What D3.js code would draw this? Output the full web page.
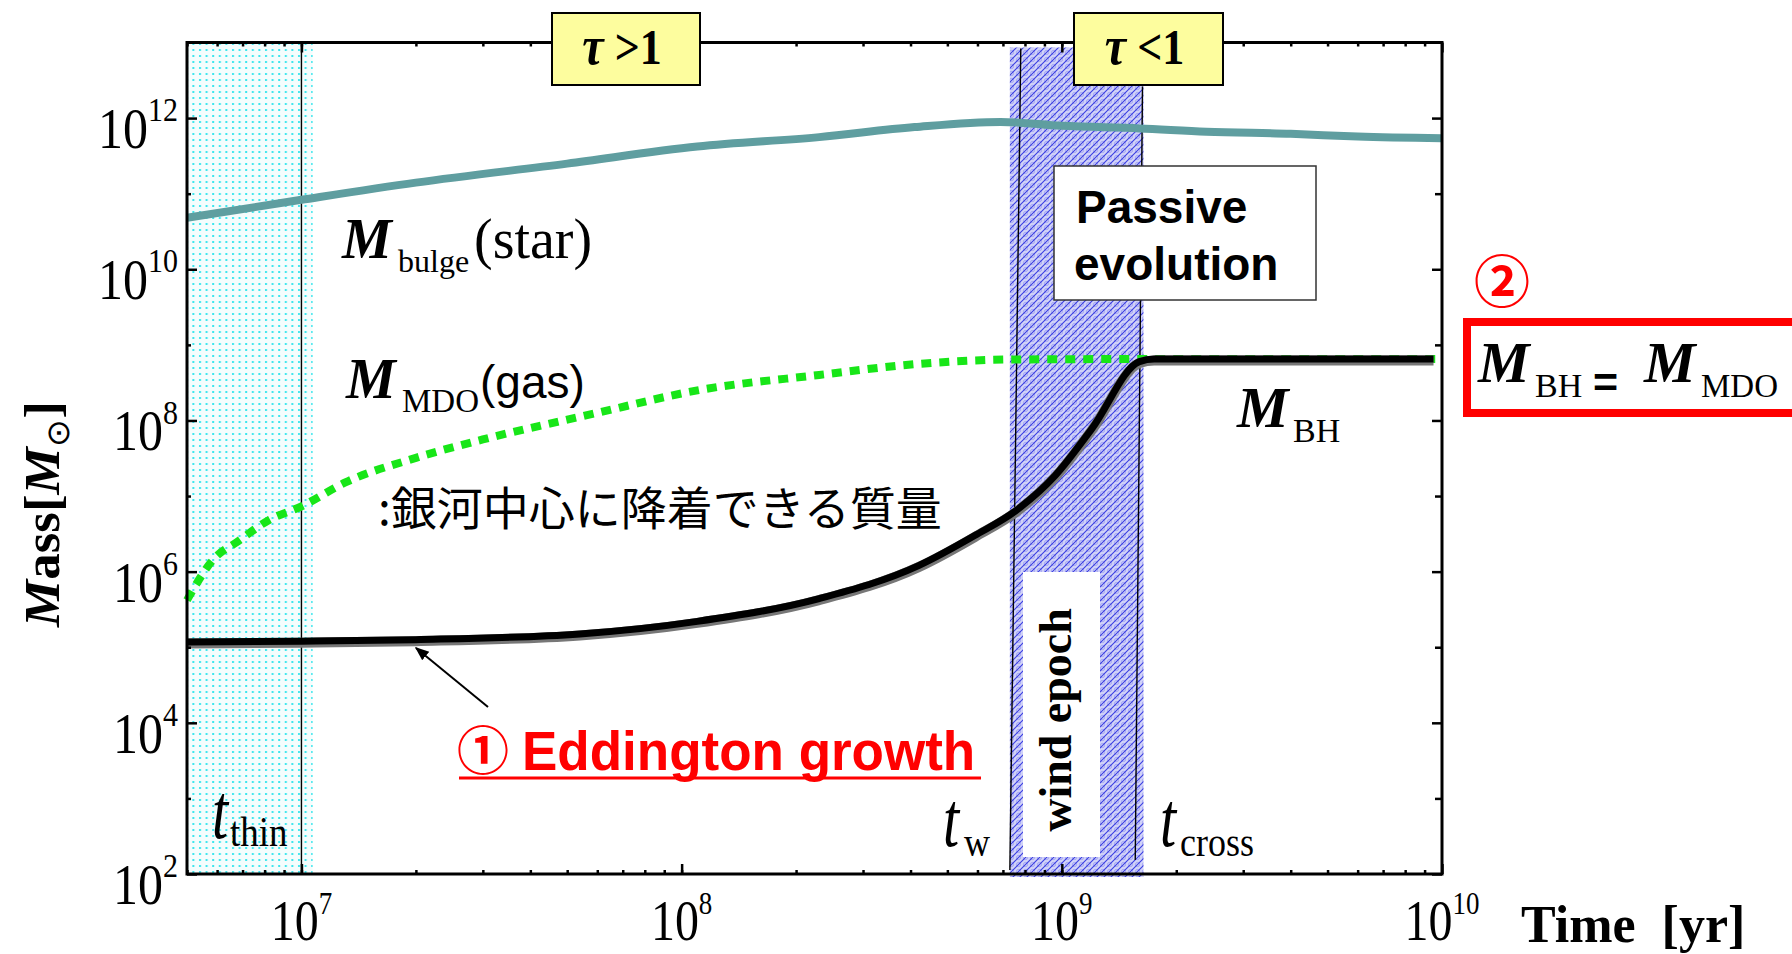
<!DOCTYPE html>
<html>
<head>
<meta charset="utf-8">
<script src="https://cdn.jsdelivr.net/npm/d3@7"></script>
<style>
  html, body { margin: 0; padding: 0; background: #fff; }
  svg { display: block; }
</style>
</head>
<body>
<svg id="chart" width="1792" height="954"></svg>
<script>
// ---- data: time in yr, masses in solar masses ----
const bulgeTime = [5e6, 1e7, 2e7, 5e7, 1.1e8, 2.3e8, 4.1e8, 6.9e8, 1e9, 1.6e9, 2.4e9, 4e9, 6e9, 1e10];
const bulgeMass = [4.8e10, 8.3e10, 1.4e11, 2.5e11, 4.2e11, 5.6e11, 7.6e11, 8.9e11, 7.9e11, 7.3e11, 6.6e11, 6.2e11, 5.7e11, 5.4e11];

const mdoTime = [5e6, 5.9e6, 6.8e6, 8.2e6, 1e7, 1.3e7, 2e7, 3e7, 6e7, 1.1e8, 2.3e8, 4.2e8, 7.4e8, 1.75e9, 1e10];
const mdoMass = [4.2e5, 1.5e6, 2.5e6, 4.8e6, 7.3e6, 1.5e7, 3.2e7, 5.6e7, 1.26e8, 2.5e8, 4.0e8, 5.6e8, 6.4e8, 6.5e8, 6.5e8];

const bhTime = [5e6, 1e7, 2e7, 5.4e7, 1.1e8, 2.3e8, 4.2e8, 5.9e8, 7.6e8, 9.6e8, 1.2e9, 1.6e9, 1.75e9, 9.5e9];
const bhMass = [1.17e5, 1.2e5, 1.26e5, 1.5e5, 2.2e5, 4.4e5, 1.2e6, 3.0e6, 6.5e6, 1.86e7, 7.8e7, 6.0e8, 6.5e8, 6.5e8];

// epochs (yr)
const thinRegion = [5e6, 1.07e7];      // optically thin phase shading
const tThinLine = 1e7;
const windRegion = [7.3e8, 1.64e9];    // wind epoch shading
const tWindLine = [7.8e8, 7.3e8];      // t_w marker (top, bottom)
const tCrossLine = [1.63e9, 1.56e9];   // t_cross marker (top, bottom)

// axis ranges and labelled exponents
const xDomain = [5e6, 1e10];
const yDomain = [1e2, 1e13];
const xLabelExp = [7, 8, 9, 10];
const yLabelExp = [2, 4, 6, 8, 10, 12];

// ---- layout ----
const plotL = 187, plotR = 1442, plotT = 42.5, plotB = 874;
const serif = "'Liberation Serif','Times New Roman',serif";
const sans = "'Liberation Sans',Arial,sans-serif";
const cjk = "'Noto Sans CJK JP','Noto Sans CJK SC',sans-serif";

const svg = d3.select("#chart");
const x = d3.scaleLog().domain(xDomain).range([plotL, plotR]);
const y = d3.scaleLog().domain(yDomain).range([plotB, plotT]);

// ---- patterns ----
const defs = svg.append("defs");
const dots = defs.append("pattern").attr("id", "thinDots")
  .attr("width", 6.6).attr("height", 6).attr("patternUnits", "userSpaceOnUse");
dots.append("rect").attr("width", 6.6).attr("height", 6).attr("fill", "#f4fdfd");
dots.append("rect").attr("x", 1).attr("y", 1).attr("width", 2).attr("height", 2).attr("fill", "#3be6ee");

const hatch = defs.append("pattern").attr("id", "windHatch")
  .attr("width", 7).attr("height", 7).attr("patternUnits", "userSpaceOnUse");
hatch.append("rect").attr("width", 7).attr("height", 7).attr("fill", "#d2d3f8");
hatch.append("circle").attr("cx", 3.5).attr("cy", 3.5).attr("r", 2.1)
  .attr("fill", "none").attr("stroke", "#8d8ff0").attr("stroke-width", 0.7);
hatch.append("path").attr("d", "M0,7 L7,0 M-1,1 L1,-1 M6,8 L8,6")
  .attr("stroke", "#3a3ee2").attr("stroke-width", 1.1);

const marker = defs.append("marker").attr("id", "arrowHead")
  .attr("viewBox", "0 0 10 10").attr("refX", 9).attr("refY", 5)
  .attr("markerWidth", 7).attr("markerHeight", 7).attr("orient", "auto-start-reverse")
  .attr("markerUnits", "strokeWidth");
marker.append("path").attr("d", "M0,1 L10,5 L0,9 Z").attr("fill", "#000");

// ---- shaded epochs ----
svg.append("rect")
  .attr("x", x(thinRegion[0])).attr("y", plotT)
  .attr("width", x(thinRegion[1]) - x(thinRegion[0])).attr("height", plotB - plotT)
  .attr("fill", "url(#thinDots)");

svg.append("rect")
  .attr("x", x(windRegion[0])).attr("y", plotT + 5)
  .attr("width", x(windRegion[1]) - x(windRegion[0])).attr("height", plotB - plotT - 2)
  .attr("fill", "url(#windHatch)");

// white label plate inside the wind band
svg.append("rect").attr("x", 1023).attr("y", 572).attr("width", 77).attr("height", 285).attr("fill", "#fff");

// epoch marker lines
svg.append("line").attr("x1", x(tThinLine)).attr("x2", x(tThinLine))
  .attr("y1", plotT).attr("y2", plotB).attr("stroke", "#000").attr("stroke-width", 1.4);
svg.append("line").attr("x1", x(tWindLine[0])).attr("x2", x(tWindLine[1]))
  .attr("y1", plotT + 6).attr("y2", plotB - 4).attr("stroke", "#000").attr("stroke-width", 1.4);
svg.append("line").attr("x1", x(tCrossLine[0])).attr("x2", x(tCrossLine[1]))
  .attr("y1", plotT + 44).attr("y2", plotB - 14).attr("stroke", "#000").attr("stroke-width", 1.4);

// ---- curves ----
const line = d3.line().x(d => x(d[0])).y(d => y(d[1])).curve(d3.curveMonotoneX);

svg.append("path").datum(d3.zip(bulgeTime, bulgeMass))
  .attr("d", line).attr("fill", "none")
  .attr("stroke", "#5f9ea0").attr("stroke-width", 8);

svg.append("path").datum(d3.zip(mdoTime, mdoMass))
  .attr("d", line).attr("fill", "none")
  .attr("stroke", "#18e618").attr("stroke-width", 8)
  .attr("stroke-dasharray", "10,8");

const bhData = d3.zip(bhTime, bhMass);
svg.append("path").datum(bhData)
  .attr("d", line).attr("fill", "none")
  .attr("stroke", "#777").attr("stroke-width", 10).attr("transform", "translate(0,1.5)");
svg.append("path").datum(bhData)
  .attr("d", line).attr("fill", "none")
  .attr("stroke", "#000").attr("stroke-width", 7);

// ---- frame and ticks ----
const minorX = [];
for (let n = 6; n <= 9; n++) for (let k = 1; k <= 9; k++) {
  const v = k * Math.pow(10, n);
  if (v >= xDomain[0] && v <= xDomain[1]) minorX.push(v);
}
const majorX = xLabelExp.map(e => Math.pow(10, e));
const decadesY = d3.range(3, 13).map(e => Math.pow(10, e));
const majorY = yLabelExp.map(e => Math.pow(10, e));
const oddY = decadesY.filter(v => !majorY.includes(v));

function styleAxis(g) {
  g.select(".domain").remove();
  g.selectAll("line").attr("stroke", "#000").attr("stroke-width", 2.5);
  g.selectAll("text").remove();
}
svg.append("g").attr("transform", `translate(0,${plotB})`)
  .call(d3.axisBottom(x).tickValues(minorX).tickSize(-4)).call(styleAxis);
svg.append("g").attr("transform", `translate(0,${plotB})`)
  .call(d3.axisBottom(x).tickValues(majorX).tickSize(-10)).call(styleAxis);
svg.append("g").attr("transform", `translate(0,${plotT})`)
  .call(d3.axisTop(x).tickValues(minorX).tickSize(-4)).call(styleAxis);
svg.append("g").attr("transform", `translate(0,${plotT})`)
  .call(d3.axisTop(x).tickValues(majorX).tickSize(-10)).call(styleAxis);
svg.append("g").attr("transform", `translate(${plotL},0)`)
  .call(d3.axisLeft(y).tickValues(oddY).tickSize(-4)).call(styleAxis);
svg.append("g").attr("transform", `translate(${plotL},0)`)
  .call(d3.axisLeft(y).tickValues(majorY).tickSize(-10)).call(styleAxis);
svg.append("g").attr("transform", `translate(${plotR},0)`)
  .call(d3.axisRight(y).tickValues(oddY).tickSize(-7)).call(styleAxis);
svg.append("g").attr("transform", `translate(${plotR},0)`)
  .call(d3.axisRight(y).tickValues(majorY).tickSize(-10)).call(styleAxis);

svg.append("rect").attr("x", plotL).attr("y", plotT)
  .attr("width", plotR - plotL).attr("height", plotB - plotT)
  .attr("fill", "none").attr("stroke", "#000").attr("stroke-width", 3);

// tick labels: 10^n with superscript exponent
svg.append("g").selectAll("text").data(xLabelExp).join("text")
  .attr("transform", e => `translate(${x(Math.pow(10, e))},940) scale(1,1.18)`)
  .attr("text-anchor", "middle").attr("font-family", serif).attr("fill", "#000")
  .each(function (e) {
    const t = d3.select(this);
    t.append("tspan").attr("font-size", 48).text("10");
    t.append("tspan").attr("font-size", 27).attr("dy", -22).text(e);
  });

svg.append("g").selectAll("text").data(yLabelExp).join("text")
  .attr("transform", e => `translate(178,${y(Math.pow(10, e)) + 30}) scale(1,1.12)`)
  .attr("text-anchor", "end").attr("font-family", serif).attr("fill", "#000")
  .each(function (e) {
    const t = d3.select(this);
    t.append("tspan").attr("font-size", 50).text("10");
    t.append("tspan").attr("font-size", 30).attr("dy", -24).text(e);
  });

// ---- text helper: each part is placed on its own, with optional vertical stretch ----
function label(parts) {
  const g = svg.append("g");
  parts.forEach(p => {
    g.append("text")
      .attr("transform", `translate(${p.x},${p.y}) scale(1,${p.sy || 1})`)
      .attr("font-family", p.family || serif)
      .attr("font-size", p.size)
      .attr("font-weight", p.weight || "normal")
      .attr("font-style", p.style || "normal")
      .attr("fill", p.fill || "#000")
      .text(p.t);
  });
  return g;
}

// curve labels
label([
  { t: "M", x: 342, y: 258, size: 56, weight: "bold", style: "italic" },
  { t: "bulge", x: 398, y: 272, size: 32 },
  { t: "(star)", x: 474, y: 258, size: 56 }
]);
label([
  { t: "M", x: 346, y: 398, size: 56, weight: "bold", style: "italic" },
  { t: "MDO", x: 402, y: 412, size: 33 },
  { t: "(gas)", x: 480, y: 398, size: 46, family: sans }
]);
label([{ t: ":銀河中心に降着できる質量", x: 378, y: 525, size: 46, family: cjk }]);
label([
  { t: "M", x: 1237, y: 427, size: 58, weight: "bold", style: "italic" },
  { t: "BH", x: 1293, y: 442, size: 34 }
]);

// epoch labels
label([
  { t: "t", x: 212, y: 838, size: 58, style: "italic", sy: 1.35 },
  { t: "thin", x: 230, y: 846, size: 37, sy: 1.12 }
]);
label([
  { t: "t", x: 943, y: 846, size: 58, style: "italic", sy: 1.35 },
  { t: "w", x: 964, y: 856, size: 36, sy: 1.12 }
]);
label([
  { t: "t", x: 1160, y: 846, size: 58, style: "italic", sy: 1.35 },
  { t: "cross", x: 1180, y: 856, size: 36, sy: 1.12 }
]);

svg.append("text").attr("transform", "translate(1071,720) rotate(-90)")
  .attr("text-anchor", "middle").attr("font-family", serif).attr("font-weight", "bold")
  .attr("font-size", 46).attr("fill", "#000").text("wind epoch");

// optical depth boxes
function tauBox(x0, w, txt) {
  svg.append("rect").attr("x", x0).attr("y", 13).attr("width", w).attr("height", 72)
    .attr("fill", "#fdfd9e").attr("stroke", "#000").attr("stroke-width", 2);
  const t = svg.append("text")
    .attr("transform", `translate(${x0 + w / 2 - 4},64) scale(1,1.15)`)
    .attr("text-anchor", "middle").attr("font-family", serif).attr("font-weight", "bold")
    .attr("font-size", 44).attr("fill", "#000");
  t.append("tspan").attr("font-style", "italic").attr("font-size", 48).text("τ");
  t.append("tspan").text("\u00a0" + txt);
}
tauBox(552, 148, ">1");
tauBox(1074, 149, "<1");

// passive evolution note
svg.append("rect").attr("x", 1054).attr("y", 166).attr("width", 262).attr("height", 134)
  .attr("fill", "#fff").attr("stroke", "#333").attr("stroke-width", 1.5);
label([
  { t: "Passive", x: 1076, y: 223, size: 46, family: sans, weight: "bold" },
  { t: "evolution", x: 1074, y: 280, size: 46, family: sans, weight: "bold" }
]);

// Eddington growth note with arrow
svg.append("line").attr("x1", 488).attr("y1", 707).attr("x2", 416).attr("y2", 648)
  .attr("stroke", "#000").attr("stroke-width", 2).attr("marker-end", "url(#arrowHead)");
label([
  { t: "①", x: 457, y: 770, size: 52, family: cjk, weight: "bold", fill: "#ff0000" },
  { t: "Eddington growth", x: 522, y: 770, size: 53, family: sans, weight: "bold", fill: "#ff0000", sy: 1.05 }
]);
svg.append("line").attr("x1", 459).attr("x2", 981).attr("y1", 778).attr("y2", 778)
  .attr("stroke", "#ff0000").attr("stroke-width", 3);

// final-state note
svg.append("text").attr("x", 1502).attr("y", 302).attr("text-anchor", "middle")
  .attr("font-family", cjk).attr("font-weight", "bold")
  .attr("font-size", 56).attr("fill", "#ff0000").text("②");
svg.append("rect").attr("x", 1467).attr("y", 322).attr("width", 400).attr("height", 91)
  .attr("fill", "none").attr("stroke", "#ff0000").attr("stroke-width", 8);
label([
  { t: "M", x: 1478, y: 382, size: 58, weight: "bold", style: "italic" },
  { t: "BH", x: 1535, y: 397, size: 34 },
  { t: "=", x: 1593, y: 397, size: 43, family: sans, weight: "bold" },
  { t: "M", x: 1644, y: 382, size: 58, weight: "bold", style: "italic" },
  { t: "MDO", x: 1701, y: 397, size: 33 }
]);

// axis titles
label([{ t: "Time\u00a0\u00a0[yr]", x: 1521, y: 942, size: 52, weight: "bold" }]);
const yt = svg.append("text").attr("transform", "translate(59,514) rotate(-90) scale(1.04,1)")
  .attr("text-anchor", "middle").attr("font-family", serif).attr("font-weight", "bold")
  .attr("font-size", 51).attr("fill", "#000");
yt.append("tspan").attr("font-style", "italic").text("M");
yt.append("tspan").text("ass[");
yt.append("tspan").attr("font-style", "italic").text("M");
yt.append("tspan").attr("font-size", 32).attr("dy", 10).attr("font-weight", "normal").text("⊙");
yt.append("tspan").attr("dy", -10).text("]");
</script>
</body>
</html>
